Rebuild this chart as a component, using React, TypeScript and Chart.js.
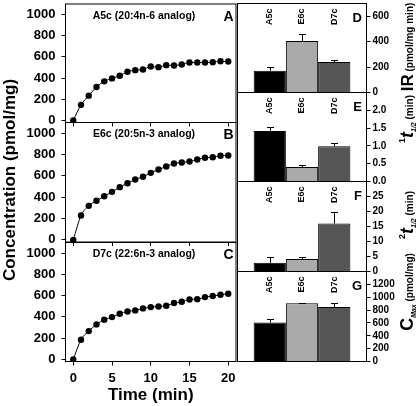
import React, { useEffect, useRef } from "react";
import { Chart, registerables } from "chart.js";

Chart.register(...registerables);

const FONT = "'Liberation Sans', Arial, Helvetica, sans-serif";

// ---------- data ----------
const timeMin = [0, 1, 2, 3, 4, 5, 6, 7, 8, 9, 10, 11, 12, 13, 14, 15, 16, 17, 18, 19, 20];
const concA5c = [0, 147, 234, 316, 369, 397, 422, 459, 475, 481, 509, 503, 522, 519, 528, 547, 547, 547, 550, 559, 556];
const concE6c = [0, 228, 319, 366, 409, 450, 494, 531, 566, 591, 628, 659, 688, 716, 725, 734, 753, 769, 775, 788, 791];
const concD7c = [0, 185, 266, 329, 373, 398, 429, 451, 461, 480, 492, 498, 505, 530, 542, 564, 567, 586, 596, 608, 618];
const panelTitles = ["A5c (20:4n-6 analog)", "E6c (20:5n-3 analog)", "D7c (22:6n-3 analog)"];
const panelLetters = ["A", "B", "C", "D", "E", "F", "G"];
const concTicks = [0, 200, 400, 600, 800, 1000];
const timeTicks = [0, 5, 10, 15, 20];

const compounds = ["A5c", "E6c", "D7c"];
const irValues = [171, 405, 240];
const irErrors = [32, 54, 19];
const t1Values = [1.42, 0.41, 0.99];
const t1Errors = [0.1, 0.05, 0.08];
const t2Values = [2.9, 4.2, 16.0];
const t2Errors = [2.0, 0.5, 4.0];
const cmaxValues = [605, 905, 848];
const cmaxErrors = [57, 11, 68];
const irTicks = [0, 200, 400, 600];
const t1Ticks = [0, 0.5, 1, 1.5, 2];
const t2Ticks = [0, 5, 10, 15, 20, 25];
const cmaxTicks = [0, 200, 400, 600, 800, 1000, 1200];

// ---------- helpers ----------
type Piece = { text: string; font: string; shift?: number };

function drawVertical(ctx: CanvasRenderingContext2D, xBase: number, yCenter: number, pieces: Piece[]) {
  ctx.save();
  let total = 0;
  for (const p of pieces) {
    ctx.font = p.font;
    total += ctx.measureText(p.text).width;
  }
  ctx.translate(xBase, yCenter + total / 2);
  ctx.rotate(-Math.PI / 2);
  ctx.fillStyle = "#000";
  ctx.textAlign = "left";
  ctx.textBaseline = "alphabetic";
  let pos = 0;
  for (const p of pieces) {
    ctx.font = p.font;
    ctx.fillText(p.text, pos, p.shift || 0);
    pos += ctx.measureText(p.text).width;
  }
  ctx.restore();
}

function hatch(ctx: CanvasRenderingContext2D, base: string, line: string) {
  const c = document.createElement("canvas");
  c.width = 4;
  c.height = 4;
  const g = c.getContext("2d")!;
  g.fillStyle = base;
  g.fillRect(0, 0, 4, 4);
  g.strokeStyle = line;
  g.lineWidth = 1;
  g.beginPath();
  g.moveTo(0, 4);
  g.lineTo(4, 0);
  g.stroke();
  return ctx.createPattern(c, "repeat") || base;
}

const LEFT_L = 65.5;
const LEFT_R = 237.5;
const RIGHT_L = 237.5;
const RIGHT_R = 366.5;

type LeftSpec = { cx: number; cy: number; W: number; H: number; top: number; bottom: number; values: number[]; title: string; letter: string; showX: boolean; extra?: (ctx: CanvasRenderingContext2D) => void };

function lineConfig(p: LeftSpec): any {
  return {
    type: "line",
    data: {
      datasets: [
        {
          data: timeMin.map((t, i) => ({ x: t, y: p.values[i] })),
          borderColor: "#000",
          borderWidth: 1,
          pointRadius: 3.2,
          pointBackgroundColor: "#000",
          pointBorderColor: "#000",
          pointBorderWidth: 0,
          cubicInterpolationMode: "monotone",
          fill: false,
        },
      ],
    },
    options: {
      animation: false,
      responsive: false,
      events: [],
      layout: { padding: { left: 0, top: p.top - p.cy, right: p.cx + p.W - LEFT_R, bottom: 0 } },
      plugins: { legend: { display: false }, tooltip: { enabled: false } },
      scales: {
        x: {
          type: "linear",
          min: -1,
          max: 21,
          afterBuildTicks: (s: any) => {
            s.ticks = timeTicks.map((v) => ({ value: v }));
          },
          afterFit: (s: any) => {
            s.height = p.cy + p.H - p.bottom;
            s.paddingLeft = 0;
            s.paddingRight = 0;
          },
          ticks: {
            display: p.showX,
            color: "#000",
            font: { family: FONT, size: 13, weight: "bold" },
            padding: 5,
            maxRotation: 0,
            autoSkip: false,
            callback: (v: any) => String(v),
          },
          grid: { display: true, drawOnChartArea: false, drawTicks: true, tickLength: 4, color: "#000", lineWidth: 1 },
          border: { display: false },
          title: {
            display: p.showX,
            text: "Time (min)",
            color: "#000",
            font: { family: FONT, size: 17, weight: "bold" },
            padding: { top: 0, bottom: 0 },
          },
        },
        y: {
          min: -20,
          max: 1100,
          afterBuildTicks: (s: any) => {
            s.ticks = concTicks.map((v) => ({ value: v }));
          },
          afterFit: (s: any) => {
            s.width = LEFT_L - p.cx;
            s.paddingTop = 0;
            s.paddingBottom = 0;
          },
          ticks: {
            color: "#000",
            font: { family: FONT, size: 13, weight: "bold" },
            padding: 6,
            callback: (v: any) => String(v),
          },
          grid: { display: true, drawOnChartArea: false, drawTicks: true, tickLength: 4, color: "#000", lineWidth: 1 },
          border: { display: false },
        },
      },
    },
    plugins: [
      {
        id: "decor" + p.letter,
        afterDraw(chart: any) {
          const ctx = chart.ctx as CanvasRenderingContext2D;
          const a = chart.chartArea;
          ctx.save();
          ctx.strokeStyle = "#000";
          ctx.lineWidth = 1;
          ctx.strokeRect(a.left, a.top, a.right - a.left, a.bottom - a.top);
          ctx.fillStyle = "#000";
          ctx.font = `bold 10.5px ${FONT}`;
          ctx.textAlign = "center";
          ctx.textBaseline = "middle";
          ctx.fillText(p.title, 144 - p.cx, a.top + 12);
          ctx.font = `bold 14px ${FONT}`;
          ctx.textAlign = "right";
          ctx.textBaseline = "alphabetic";
          ctx.fillText(p.letter, 233.5 - p.cx, a.top + 16.5);
          ctx.restore();
          if (p.extra) p.extra(ctx);
        },
      },
    ],
  };
}

type RightSpec = { cx: number; cy: number; W: number; H: number; top: number; bottom: number; values: number[]; errors: number[]; max: number; ticks: number[]; fmt: (v: number) => string; letter: string; extra?: (ctx: CanvasRenderingContext2D) => void };

function barConfig(p: RightSpec, ctx0: CanvasRenderingContext2D): any {
  const fills = ["#000000", hatch(ctx0, "#a8a8a8", "#b1b1b1"), hatch(ctx0, "#545454", "#5b5b5b")];
  return {
    type: "bar",
    data: {
      labels: [""],
      datasets: compounds.map((c, i) => ({
        label: c,
        data: [p.values[i]],
        backgroundColor: fills[i],
        borderColor: "#000",
        borderWidth: 1,
        categoryPercentage: 0.75,
        barPercentage: 1.0,
      })),
    },
    options: {
      animation: false,
      responsive: false,
      events: [],
      layout: { padding: { left: RIGHT_L - p.cx, top: p.top - p.cy, right: 0, bottom: p.cy + p.H - p.bottom } },
      plugins: { legend: { display: false }, tooltip: { enabled: false } },
      scales: {
        x: { display: false },
        y: {
          position: "right",
          min: 0,
          max: p.max,
          afterBuildTicks: (s: any) => {
            s.ticks = p.ticks.map((v) => ({ value: v }));
          },
          afterFit: (s: any) => {
            s.width = p.cx + p.W - RIGHT_R;
            s.paddingTop = 0;
            s.paddingBottom = 0;
          },
          ticks: {
            color: "#000",
            font: { family: FONT, size: 10, weight: "bold" },
            padding: 2,
            callback: (v: any) => p.fmt(Number(v)),
          },
          grid: { display: true, drawOnChartArea: false, drawTicks: true, tickLength: 4, color: "#000", lineWidth: 1 },
          border: { display: false },
        },
      },
    },
    plugins: [
      {
        id: "bars" + p.letter,
        afterDatasetsDraw(chart: any) {
          const ctx = chart.ctx as CanvasRenderingContext2D;
          const ys = chart.scales.y;
          ctx.save();
          ctx.strokeStyle = "#000";
          ctx.lineWidth = 1;
          chart.data.datasets.forEach((ds: any, i: number) => {
            const el = chart.getDatasetMeta(i).data[0];
            const x = Math.round(el.x) + 0.5;
            const yTop = el.y;
            const yE = Math.round(ys.getPixelForValue(p.values[i] + p.errors[i])) + 0.5;
            ctx.beginPath();
            ctx.moveTo(x, yTop);
            ctx.lineTo(x, yE);
            ctx.moveTo(x - 3.5, yE);
            ctx.lineTo(x + 3.5, yE);
            ctx.stroke();
          });
          ctx.restore();
        },
        afterDraw(chart: any) {
          const ctx = chart.ctx as CanvasRenderingContext2D;
          const a = chart.chartArea;
          ctx.save();
          ctx.strokeStyle = "#000";
          ctx.lineWidth = 1;
          ctx.strokeRect(a.left, a.top, a.right - a.left, a.bottom - a.top);
          ctx.fillStyle = "#000";
          chart.data.datasets.forEach((ds: any, i: number) => {
            const el = chart.getDatasetMeta(i).data[0];
            ctx.save();
            ctx.translate(el.x, a.top + 5);
            ctx.rotate(-Math.PI / 2);
            ctx.font = `bold 9px ${FONT}`;
            ctx.textAlign = "right";
            ctx.textBaseline = "middle";
            ctx.fillText(ds.label, 0, 0);
            ctx.restore();
          });
          ctx.font = `bold 13px ${FONT}`;
          ctx.textAlign = "right";
          ctx.textBaseline = "alphabetic";
          ctx.fillText(p.letter, 362 - p.cx, a.top + 18);
          ctx.restore();
          if (p.extra) p.extra(ctx);
        },
      },
    ],
  };
}

// ---------- layout of canvases ----------
const leftBoxes = [
  { cx: 0, cy: 0, W: 240, H: 406, top: 3.5, bottom: 122.5 },
  { cx: 0, cy: 118, W: 240, H: 128, top: 122.5, bottom: 242.5 },
  { cx: 0, cy: 238, W: 240, H: 168, top: 242.5, bottom: 361.5 },
];
const rightBoxes = [
  { cx: 230, cy: 0, W: 186, H: 406, top: 3.5, bottom: 92.5 },
  { cx: 230, cy: 85, W: 186, H: 105, top: 92.5, bottom: 181.5 },
  { cx: 230, cy: 175, W: 186, H: 105, top: 181.5, bottom: 271.5 },
  { cx: 230, cy: 265, W: 186, H: 105, top: 271.5, bottom: 361.5 },
];

export default function App() {
  const leftRefs = [useRef<HTMLCanvasElement>(null), useRef<HTMLCanvasElement>(null), useRef<HTMLCanvasElement>(null)];
  const rightRefs = [
    useRef<HTMLCanvasElement>(null),
    useRef<HTMLCanvasElement>(null),
    useRef<HTMLCanvasElement>(null),
    useRef<HTMLCanvasElement>(null),
  ];

  useEffect(() => {
    const charts: Chart[] = [];
    const series = [concA5c, concE6c, concD7c];
    leftBoxes.forEach((b, i) => {
      const cv = leftRefs[i].current!;
      const spec: LeftSpec = {
        ...b,
        values: series[i],
        title: panelTitles[i],
        letter: panelLetters[i],
        showX: i === 2,
        extra:
          i === 0
            ? (ctx) => drawVertical(ctx, 15 - b.cx, 180 - b.cy, [{ text: "Concentration (pmol/mg)", font: `bold 17px ${FONT}` }])
            : undefined,
      };
      charts.push(new Chart(cv, lineConfig(spec)));
    });

    const vals = [irValues, t1Values, t2Values, cmaxValues];
    const errs = [irErrors, t1Errors, t2Errors, cmaxErrors];
    const maxes = [700, 2.5, 30, 1400];
    const ticks = [irTicks, t1Ticks, t2Ticks, cmaxTicks];
    const fmts = [(v: number) => String(v), (v: number) => v.toFixed(1), (v: number) => String(v), (v: number) => String(v)];
    rightBoxes.forEach((b, i) => {
      const cv = rightRefs[i].current!;
      const ctx0 = cv.getContext("2d")!;
      const xb = 413 - b.cx;
      const spec: RightSpec = {
        ...b,
        values: vals[i],
        errors: errs[i],
        max: maxes[i],
        ticks: ticks[i],
        fmt: fmts[i],
        letter: panelLetters[i + 3],
        extra:
          i === 0
            ? (ctx) => {
                const big = `bold 17px ${FONT}`;
                const mid = `bold 10px ${FONT}`;
                const sup = `bold 9px ${FONT}`;
                const subIt = `italic bold 7px ${FONT}`;
                const tIt = `italic bold 18px ${FONT}`;
                drawVertical(ctx, xb, 47 - b.cy, [
                  { text: "IR", font: big },
                  { text: " (pmol/mg min)", font: mid },
                ]);
                drawVertical(ctx, xb, 119 - b.cy, [
                  { text: "1", font: sup, shift: -8 },
                  { text: "t", font: tIt },
                  { text: "1/2", font: subIt, shift: 3 },
                  { text: " (min)", font: mid },
                ]);
                drawVertical(ctx, xb, 215 - b.cy, [
                  { text: "2", font: sup, shift: -8 },
                  { text: "t", font: tIt },
                  { text: "1/2", font: subIt, shift: 3 },
                  { text: " (min)", font: mid },
                ]);
                drawVertical(ctx, xb, 292 - b.cy, [
                  { text: "C", font: `bold 18px ${FONT}` },
                  { text: "Max", font: subIt, shift: 3 },
                  { text: " (pmol/mg)", font: mid },
                ]);
              }
            : undefined,
      };
      charts.push(new Chart(cv, barConfig(spec, ctx0)));
    });

    return () => charts.forEach((c) => c.destroy());
  }, []);

  const cvStyle = (b: { cx: number; cy: number; W: number; H: number }): React.CSSProperties => ({
    position: "absolute",
    left: b.cx,
    top: b.cy,
    width: b.W,
    height: b.H,
  });

  return (
    <div style={{ position: "absolute", left: 0, top: 0, width: 416, height: 406, overflow: "hidden", background: "#fff" }}>
      {leftBoxes.map((b, i) => (
        <canvas key={"l" + i} ref={leftRefs[i]} width={b.W} height={b.H} style={cvStyle(b)} />
      ))}
      {rightBoxes.map((b, i) => (
        <canvas key={"r" + i} ref={rightRefs[i]} width={b.W} height={b.H} style={cvStyle(b)} />
      ))}
    </div>
  );
}
